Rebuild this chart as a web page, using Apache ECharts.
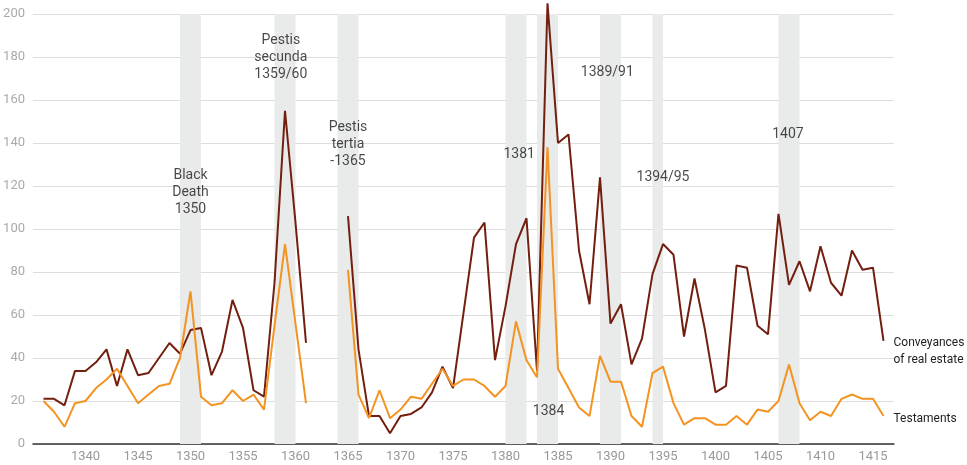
<!DOCTYPE html>
<html>
<head>
<meta charset="utf-8">
<script src="https://cdn.jsdelivr.net/npm/echarts@6/dist/echarts.min.js"></script>
<style>
  html, body { margin: 0; padding: 0; background: #fff; }
  #main { width: 967px; height: 465px; }
</style>
</head>
<body>
<div id="main"></div>
<script>
// years 1336-1416, 1362-1364 missing
var years = [1336,1337,1338,1339,1340,1341,1342,1343,1344,1345,1346,1347,1348,1349,1350,
  1351,1352,1353,1354,1355,1356,1357,1358,1359,1360,1361,1362,1363,1364,1365,
  1366,1367,1368,1369,1370,1371,1372,1373,1374,1375,1376,1377,1378,1379,1380,
  1381,1382,1383,1384,1385,1386,1387,1388,1389,1390,1391,1392,1393,1394,1395,
  1396,1397,1398,1399,1400,1401,1402,1403,1404,1405,1406,1407,1408,1409,1410,
  1411,1412,1413,1414,1415,1416];

var conveyances = [21,21,18,34,34,38,44,27,44,32,33,40,47,42,53,
  54,32,43,67,54,25,22,75,155,103,47,null,null,null,106,
  44,13,13,5,13,14,17,24,36,26,61,96,103,39,64,
  93,105,34,205,140,144,90,65,124,56,65,37,49,79,93,
  88,50,77,53,24,27,83,82,55,51,107,74,85,71,92,
  75,69,90,81,82,48];

var testaments = [20,15,8,19,20,26,30,35,27,19,23,27,28,40,71,
  22,18,19,25,20,23,16,55,93,56,19,null,null,null,81,
  23,12,25,12,16,22,21,28,35,27,30,30,27,22,27,
  57,39,31,138,35,26,17,13,41,29,29,13,8,33,36,
  19,9,12,12,9,9,13,9,16,15,20,37,19,11,15,
  13,21,23,21,21,13];

// plague years (shaded bands)
var bandStart = [1349, 1358, 1364, 1380, 1383, 1389, 1394, 1406];
var bandEnd   = [1351, 1360, 1366, 1382, 1385, 1391, 1395, 1408];

// annotation texts and where they sit (in data units)
var noteText = ['Black\nDeath\n1350', 'Pestis\nsecunda\n1359/60', 'Pestis\ntertia\n-1365',
  '1381', '1384', '1389/91', '1394/95', '1407'];
var noteYear = [1350, 1358.6, 1365, 1381.3, 1384.1, 1389.7, 1395.0, 1406.9];
var noteValue = [117, 180, 139.5, 134.5, 15, 173, 124, 144];

var chart = echarts.init(document.getElementById('main'));

function pairs(vals) {
  var out = [];
  for (var i = 0; i < years.length; i++) {
    out.push([years[i], vals[i]]);
  }
  return out;
}

var bands = [];
for (var i = 0; i < bandStart.length; i++) {
  bands.push([{ xAxis: bandStart[i] }, { xAxis: bandEnd[i] }]);
}

var notes = [];
for (var j = 0; j < noteText.length; j++) {
  notes.push({ value: [noteYear[j], noteValue[j]], name: noteText[j] });
}

var option = {
  animation: false,
  textStyle: { fontFamily: 'Roboto' },
  grid: { left: 33, right: 73, top: 14, bottom: 21 },
  xAxis: {
    type: 'value',
    min: 1335,
    max: 1417,
    interval: 5,
    axisLine: { show: true, lineStyle: { color: '#333', width: 1.5 } },
    axisTick: { show: false },
    splitLine: { show: false },
    axisLabel: {
      color: '#999',
      fontSize: 13,
      margin: 6,
      showMinLabel: false,
      showMaxLabel: false,
      formatter: function (v) { return String(v); }
    }
  },
  yAxis: {
    type: 'value',
    min: 0,
    max: 200,
    interval: 20,
    axisLine: { show: false },
    axisTick: { show: false },
    splitLine: { lineStyle: { color: '#ddd', width: 1 } },
    axisLabel: { color: '#aaa', fontSize: 13, margin: 8, align: 'right' }
  },
  series: [
    {
      // shaded bands
      type: 'line',
      data: [],
      z: 1,
      silent: true,
      markArea: {
        silent: true,
        itemStyle: { color: '#e9eaea' },
        data: bands
      }
    },
    {
      name: 'Conveyances of real estate',
      type: 'line',
      data: pairs(conveyances),
      z: 3,
      clip: false,
      showSymbol: false,
      connectNulls: false,
      lineStyle: { color: '#731f10', width: 2 },
      itemStyle: { color: '#731f10' },
      endLabel: {
        show: true,
        formatter: 'Conveyances\nof real estate',
        color: '#222',
        fontSize: 12,
        lineHeight: 17,
        align: 'left',
        distance: 10,
        offset: [0, 11]
      }
    },
    {
      name: 'Testaments',
      type: 'line',
      data: pairs(testaments),
      z: 4,
      clip: false,
      showSymbol: false,
      connectNulls: false,
      lineStyle: { color: '#f39322', width: 2 },
      itemStyle: { color: '#f39322' },
      endLabel: {
        show: true,
        formatter: 'Testaments',
        color: '#222',
        fontSize: 12,
        align: 'left',
        distance: 10,
        offset: [0, 3]
      }
    },
    {
      // annotations
      type: 'scatter',
      data: notes,
      symbolSize: 0,
      silent: true,
      z: 5,
      label: {
        show: true,
        position: 'inside',
        formatter: function (p) { return p.name; },
        color: '#1a1a1a',
        fontSize: 14,
        lineHeight: 17,
        align: 'center',
        verticalAlign: 'middle'
      }
    }
  ]
};

chart.setOption(option);
</script>
</body>
</html>
